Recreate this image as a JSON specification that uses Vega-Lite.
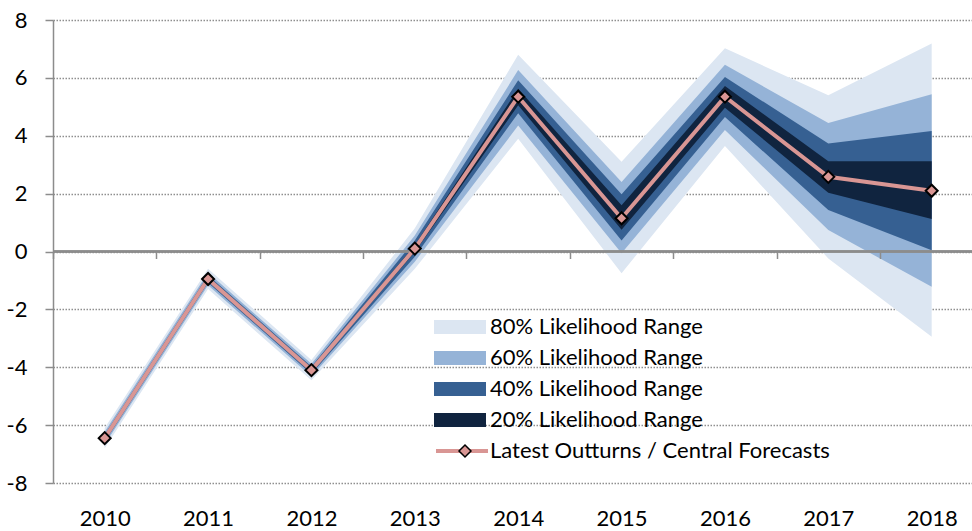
{
  "$schema": "https://vega.github.io/schema/vega-lite/v6.json",
  "autosize": {"type": "none"},
  "padding": {"left": 53, "top": 20, "right": 0, "bottom": 48},
  "width": 919,
  "height": 463,
  "background": "white",
  "config": {
    "view": {"stroke": null},
    "font": "Lato"
  },
  "data": {
    "values": [
      {"year": 2010, "central": -6.45, "lo80": -6.8, "hi80": -6.1, "lo60": -6.67, "hi60": -6.23, "lo40": -6.58, "hi40": -6.32, "lo20": -6.51, "hi20": -6.39},
      {"year": 2011, "central": -0.95, "lo80": -1.3, "hi80": -0.6, "lo60": -1.17, "hi60": -0.73, "lo40": -1.08, "hi40": -0.82, "lo20": -1.01, "hi20": -0.89},
      {"year": 2012, "central": -4.1, "lo80": -4.45, "hi80": -3.75, "lo60": -4.32, "hi60": -3.88, "lo40": -4.23, "hi40": -3.97, "lo20": -4.16, "hi20": -4.04},
      {"year": 2013, "central": 0.1, "lo80": -0.6, "hi80": 0.8, "lo60": -0.35, "hi60": 0.55, "lo40": -0.18, "hi40": 0.38, "lo20": -0.02, "hi20": 0.22},
      {"year": 2014, "central": 5.35, "lo80": 3.9, "hi80": 6.8, "lo60": 4.35, "hi60": 6.27, "lo40": 4.78, "hi40": 5.92, "lo20": 5.05, "hi20": 5.62},
      {"year": 2015, "central": 1.15, "lo80": -0.75, "hi80": 3.1, "lo60": -0.06, "hi60": 2.4, "lo40": 0.38, "hi40": 1.98, "lo20": 0.75, "hi20": 1.6},
      {"year": 2016, "central": 5.35, "lo80": 3.65, "hi80": 7.02, "lo60": 4.2, "hi60": 6.45, "lo40": 4.65, "hi40": 6.03, "lo20": 4.97, "hi20": 5.72},
      {"year": 2017, "central": 2.58, "lo80": -0.24, "hi80": 5.4, "lo60": 0.74, "hi60": 4.44, "lo40": 1.43, "hi40": 3.73, "lo20": 2.03, "hi20": 3.12},
      {"year": 2018, "central": 2.1, "lo80": -2.95, "hi80": 7.19, "lo60": -1.22, "hi60": 5.43, "lo40": 0.04, "hi40": 4.16, "lo20": 1.12, "hi20": 3.12}
    ]
  },
  "layer": [
    {
      "mark": {"type": "area", "opacity": 1},
      "encoding": {
        "x": {"field": "year", "type": "quantitative", "scale": {"domain": [2009.5, 2018.39], "nice": false, "zero": false},
          "axis": {"orient": "bottom", "values": [2010, 2011, 2012, 2013, 2014, 2015, 2016, 2017, 2018], "format": "d", "labelFontSize": 22, "labelColor": "black", "ticks": false, "domain": false, "grid": false, "labelPadding": 25, "title": null, "labelFont": "Lato"}},
        "y": {"field": "lo80", "type": "quantitative", "title": null, "scale": {"domain": [-8, 8], "nice": false, "zero": false},
          "axis": {"values": [-8, -6, -4, -2, 0, 2, 4, 6, 8], "labelExpr": "'' + datum.value", "labelFontSize": 22, "labelColor": "black", "labelFont": "Lato", "tickSize": 8, "tickColor": "#8c8c8c", "tickWidth": 1.5, "domainColor": "#8c8c8c", "domainWidth": 1.5, "grid": true, "gridColor": "#8f8f8f", "gridDash": [1.5, 1.5], "gridWidth": 1.3, "labelPadding": 18, "title": null}},
        "y2": {"field": "hi80"},
        "color": {"datum": "80% Likelihood Range", "type": "nominal",
          "scale": {"domain": ["80% Likelihood Range", "60% Likelihood Range", "40% Likelihood Range", "20% Likelihood Range"], "range": ["#DCE6F2", "#95B3D7", "#366092", "#10243F"]},
          "legend": {"title": null, "orient": "none", "legendX": 381, "legendY": 291.5, "symbolType": "M-1,-0.27H1V0.27H-1Z", "symbolSize": 2704, "symbolStrokeWidth": 0, "symbolOpacity": 1, "labelFontSize": 22, "labelColor": "black", "labelFont": "Lato", "labelOffset": 4, "clipHeight": 31, "rowPadding": 0, "padding": 0, "labelLimit": 600}}
      }
    },
    {
      "mark": {"type": "area", "opacity": 1},
      "encoding": {
        "x": {"field": "year", "type": "quantitative", "axis": null},
        "y": {"field": "lo60", "type": "quantitative", "title": null},
        "y2": {"field": "hi60"},
        "color": {"datum": "60% Likelihood Range", "type": "nominal"}
      }
    },
    {
      "mark": {"type": "area", "opacity": 1},
      "encoding": {
        "x": {"field": "year", "type": "quantitative", "axis": null},
        "y": {"field": "lo40", "type": "quantitative", "title": null},
        "y2": {"field": "hi40"},
        "color": {"datum": "40% Likelihood Range", "type": "nominal"}
      }
    },
    {
      "mark": {"type": "area", "opacity": 1},
      "encoding": {
        "x": {"field": "year", "type": "quantitative", "axis": null},
        "y": {"field": "lo20", "type": "quantitative", "title": null},
        "y2": {"field": "hi20"},
        "color": {"datum": "20% Likelihood Range", "type": "nominal"}
      }
    },
    {
      "mark": {"type": "rule", "color": "#8c8c8c", "strokeWidth": 1.5},
      "encoding": {"y": {"datum": 0, "type": "quantitative", "title": null}}
    },
    {
      "mark": {"type": "line", "strokeWidth": 4},
      "encoding": {
        "x": {"field": "year", "type": "quantitative", "axis": null},
        "y": {"field": "central", "type": "quantitative", "title": null},
        "stroke": {"datum": "Latest Outturns / Central Forecasts", "type": "nominal", "scale": {"range": ["#D99694"]},
          "legend": {"title": null, "orient": "none", "legendX": 381, "legendY": 415.5, "symbolType": "stroke", "symbolSize": 2704, "symbolStrokeWidth": 4, "labelFontSize": 22, "labelColor": "black", "labelFont": "Lato", "labelOffset": 0, "clipHeight": 31, "padding": 0, "labelLimit": 600, "zindex": 1}}
      }
    },
    {
      "mark": {"type": "point", "filled": true, "fill": "#D99694", "stroke": "black", "strokeWidth": 2, "size": 144, "opacity": 1},
      "encoding": {
        "x": {"field": "year", "type": "quantitative",
          "axis": {"orient": "bottom", "values": [2009.5, 2010.5, 2011.5, 2012.5, 2013.5, 2014.5, 2015.5, 2016.5, 2017.5], "labels": false, "domain": false, "ticks": true, "tickSize": 7, "tickColor": "#8c8c8c", "tickWidth": 1.5, "grid": false, "offset": -231.5, "zindex": 1, "title": null}},
        "y": {"field": "central", "type": "quantitative", "title": null},
        "shape": {"datum": "marker", "type": "nominal", "scale": {"range": ["diamond"]},
          "legend": {"title": null, "orient": "none", "legendX": 401, "legendY": 415.5, "symbolSize": 144, "labelExpr": "''", "labelFontSize": 22, "clipHeight": 31, "padding": 0, "zindex": 2,
            "encode": {"symbols": {"update": {"fill": {"value": "#D99694"}, "stroke": {"value": "black"}, "strokeWidth": {"value": 2}, "size": {"value": 144}, "opacity": {"value": 1}}}}}}
      }
    }
  ],
  "resolve": {"axis": {"x": "independent"}}
}
